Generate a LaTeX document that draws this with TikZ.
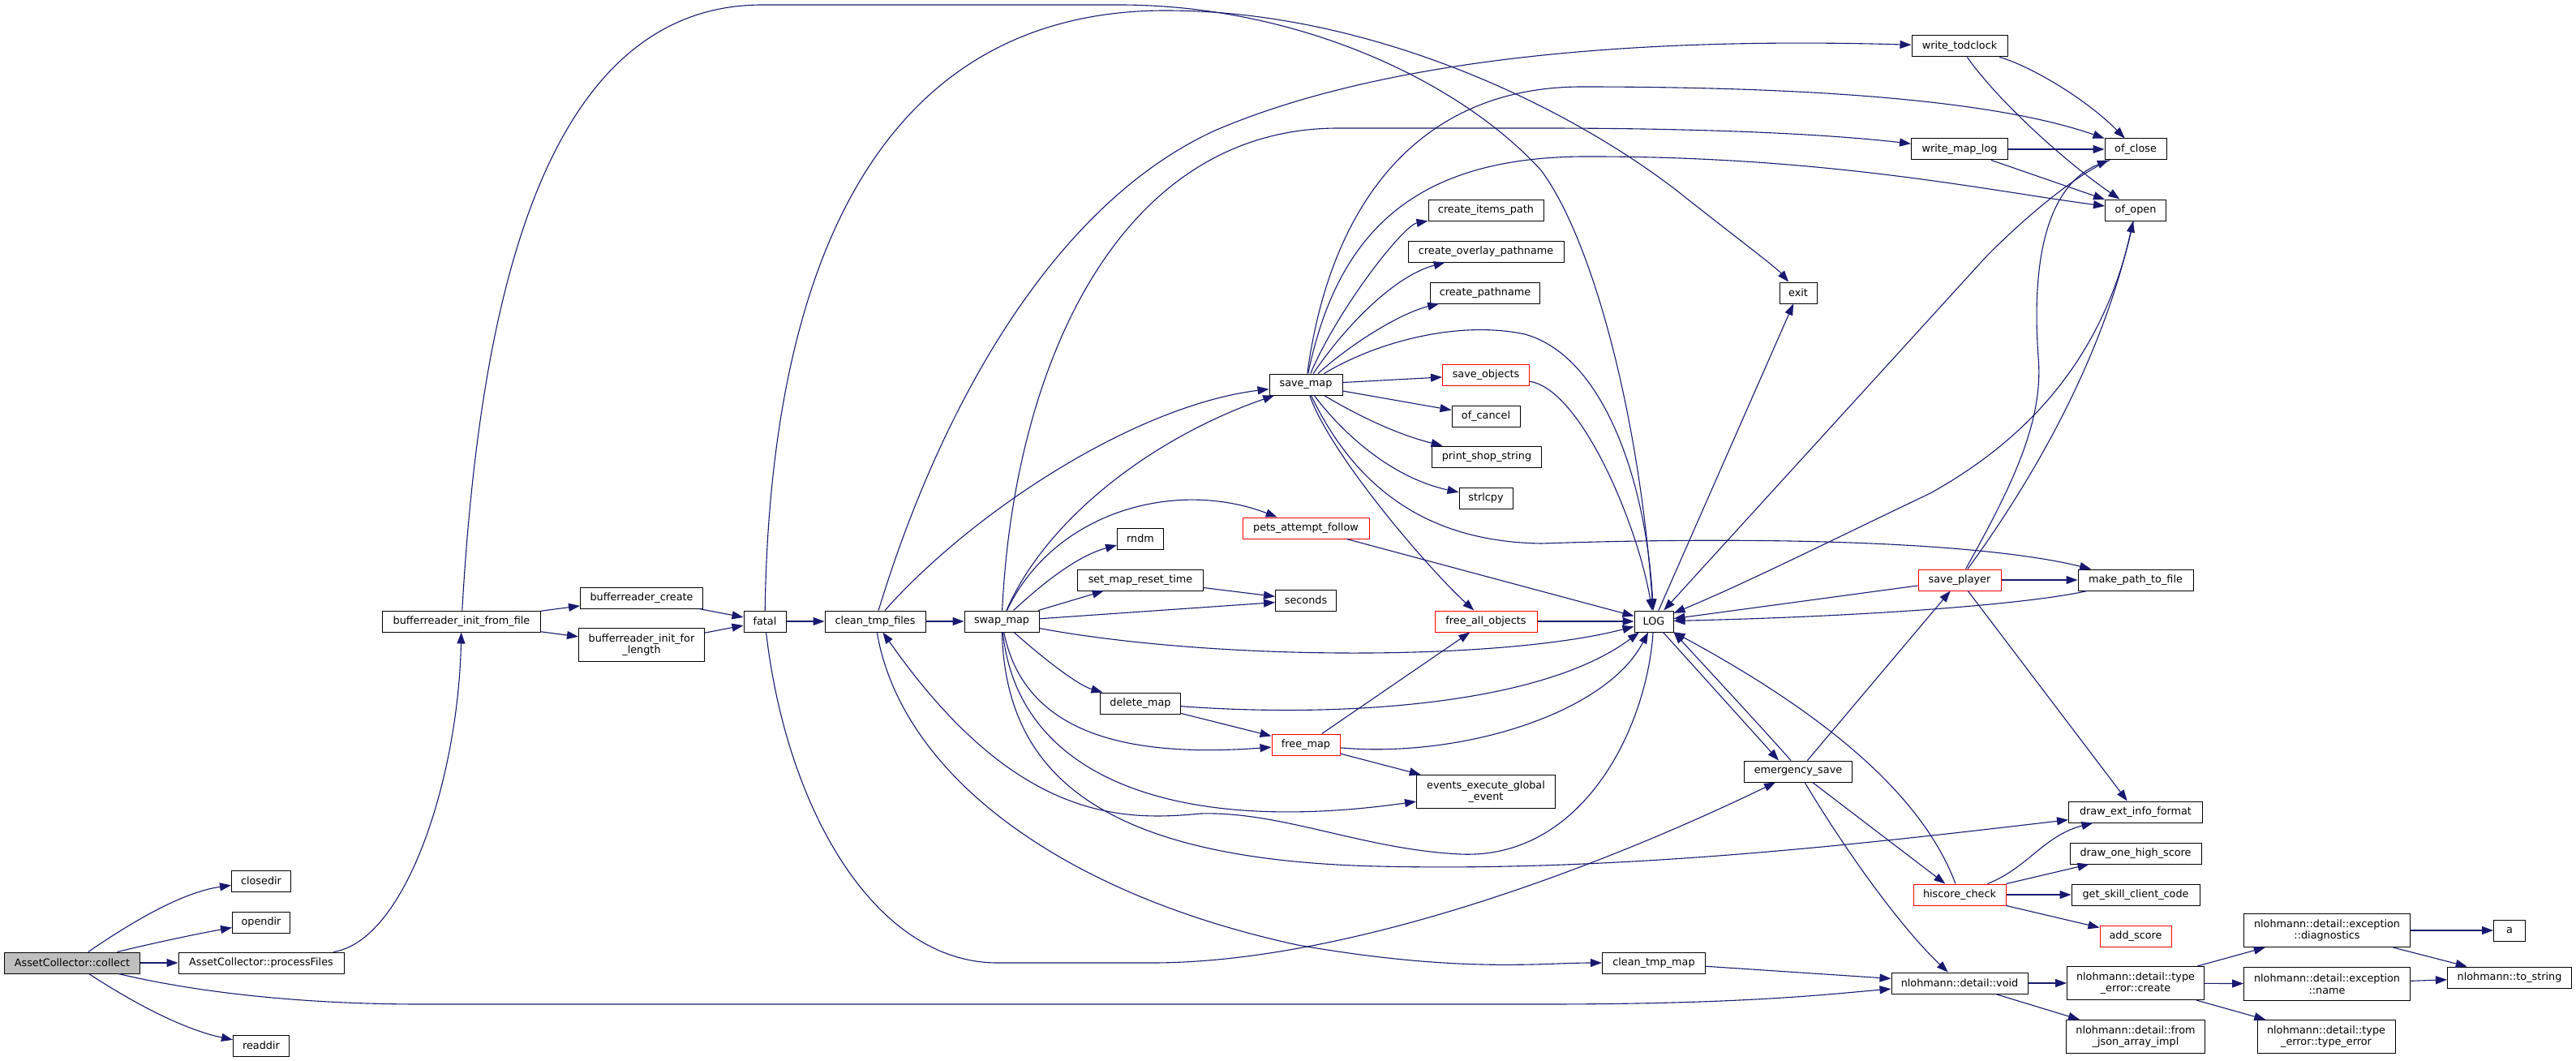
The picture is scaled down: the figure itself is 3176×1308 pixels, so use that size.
\documentclass[tikz,border=0pt]{standalone}
\usepackage{fontspec}
\setmainfont{DejaVu Sans}
\usetikzlibrary{arrows.meta}
\definecolor{edgec}{HTML}{191970}
\definecolor{rootfill}{HTML}{BFBFBF}
\begin{document}
\begin{tikzpicture}[x=1pt,y=-1pt,
  box/.style={draw=black,line width=1pt,fill=white,inner sep=0pt,minimum height=26pt,align=center,font=\fontsize{12.8}{14.5}\selectfont},
  tbox/.style={box,minimum height=41pt},
  rbox/.style={box,draw=red},
  cedge/.style={draw=edgec,line width=1.1pt,-{Triangle[length=14pt,width=10pt]}}]
\path[use as bounding box,fill=white] (0,0) rectangle (3176,1308);

% nodes
\node[box,fill=rootfill,minimum width=167pt] (collect) at (89,1187) {AssetCollector::collect};
\node[box,minimum width=73pt] (closedir) at (322,1086) {closedir};
\node[box,minimum width=71pt] (opendir) at (322,1137) {opendir};
\node[box,minimum width=204pt] (processFiles) at (322,1187) {AssetCollector::processFiles};
\node[box,minimum width=69pt] (readdir) at (322,1289) {readdir};
\node[box,minimum width=195pt] (brfile) at (569,766) {bufferreader\_init\_from\_file};
\node[box,minimum width=151pt] (brcreate) at (791,737) {bufferreader\_create};
\node[tbox,minimum width=155pt] (brlen) at (791,795) {bufferreader\_init\_for\\\_length};
\node[box,minimum width=52pt] (fatal) at (943,766) {fatal};
\node[box,minimum width=124pt] (ctf) at (1079,766) {clean\_tmp\_files};
\node[box,minimum width=92pt] (swap) at (1235,766) {swap\_map};
\node[box,minimum width=57pt] (rndm) at (1406,664) {rndm};
\node[box,minimum width=155pt] (smrt) at (1406,715) {set\_map\_reset\_time};
\node[box,minimum width=99pt] (delmap) at (1406,867) {delete\_map};
\node[box,minimum width=90pt] (savemap) at (1610,474) {save\_map};
\node[rbox,minimum width=156pt] (pets) at (1610,651) {pets\_attempt\_follow};
\node[box,minimum width=75pt] (seconds) at (1610,740) {seconds};
\node[rbox,minimum width=84pt] (freemap) at (1610,918) {free\_map};
\node[box,minimum width=142pt] (cip) at (1832,259) {create\_items\_path};
\node[box,minimum width=192pt] (cop) at (1832,310) {create\_overlay\_pathname};
\node[box,minimum width=135pt] (cpn) at (1831,361) {create\_pathname};
\node[rbox,minimum width=107pt] (saveobj) at (1832,462) {save\_objects};
\node[box,minimum width=84pt] (ofcancel) at (1832,513) {of\_cancel};
\node[box,minimum width=135pt] (pss) at (1833,563) {print\_shop\_string};
\node[box,minimum width=66pt] (strlcpy) at (1832,614) {strlcpy};
\node[rbox,minimum width=126pt] (fao) at (1832,766) {free\_all\_objects};
\node[tbox,minimum width=171pt] (eeg) at (1832,976) {events\_execute\_global\\\_event};
\node[box,minimum width=48pt] (LOG) at (2039,766) {LOG};
\node[box,minimum width=127pt] (ctm) at (2039,1187) {clean\_tmp\_map};
\node[box,minimum width=46pt] (exit) at (2217,361) {exit};
\node[box,minimum width=133pt] (esave) at (2217,951) {emergency\_save};
\node[box,minimum width=118pt] (wtc) at (2416,57) {write\_todclock};
\node[box,minimum width=119pt] (wml) at (2416,184) {write\_map\_log};
\node[rbox,minimum width=102pt] (splayer) at (2416,715) {save\_player};
\node[rbox,minimum width=114pt] (hiscore) at (2416,1103) {hiscore\_check};
\node[box,minimum width=168pt] (nvoid) at (2416,1212) {nlohmann::detail::void};
\node[box,minimum width=76pt] (ofclose) at (2633,184) {of\_close};
\node[box,minimum width=75pt] (ofopen) at (2633,259) {of\_open};
\node[box,minimum width=142pt] (mptf) at (2633,715) {make\_path\_to\_file};
\node[box,minimum width=165pt] (deif) at (2633,1001) {draw\_ext\_info\_format};
\node[box,minimum width=162pt] (dohs) at (2633,1052) {draw\_one\_high\_score};
\node[box,minimum width=158pt] (gscc) at (2633,1103) {get\_skill\_client\_code};
\node[rbox,minimum width=88pt] (addscore) at (2633,1154) {add\_score};
\node[tbox,minimum width=169pt] (tecreate) at (2633,1212) {nlohmann::detail::type\\\_error::create};
\node[tbox,minimum width=171pt] (fjai) at (2633,1278) {nlohmann::detail::from\\\_json\_array\_impl};
\node[tbox,minimum width=205pt] (diag) at (2869,1147) {nlohmann::detail::exception\\::diagnostics};
\node[tbox,minimum width=205pt] (exname) at (2869,1213) {nlohmann::detail::exception\\::name};
\node[tbox,minimum width=170pt] (tete) at (2868,1278) {nlohmann::detail::type\\\_error::type\_error};
\node[box,minimum width=39pt] (a) at (3094,1147) {a};
\node[box,minimum width=153pt] (tostring) at (3094,1205) {nlohmann::to\_string};

% edges from collect
\draw[cedge] (collect) .. controls (165,1135) and (225,1100) .. (closedir);
\draw[cedge] (collect) .. controls (200,1160) and (250,1150) .. (opendir);
\draw[cedge] (collect) -- (processFiles);
\draw[cedge] (collect) .. controls (170,1240) and (230,1270) .. (readdir);
\draw[cedge] (collect) .. controls (250,1225) and (380,1238) .. (520,1238) -- (1900,1238) .. controls (2150,1238) and (2250,1226) .. (nvoid);
\draw[cedge] (processFiles) .. controls (500,1160) and (565,960) .. (brfile);

% bufferreader / fatal
\draw[cedge] (brfile) -- (brcreate);
\draw[cedge] (brfile) -- (brlen);
\draw[cedge] (brcreate) -- (fatal);
\draw[cedge] (brlen) -- (fatal);
\draw[cedge] (fatal) -- (ctf);
\draw[cedge] (ctf) -- (swap);
\draw[cedge] (brfile) .. controls (590,400) and (660,6) .. (940,6) -- (1380,6) .. controls (1600,6) and (1800,100) .. (1900,210) .. controls (1960,290) and (2020,500) .. (LOG);
\draw[cedge] (fatal) .. controls (950,300) and (1100,13) .. (1437,13) .. controls (1700,13) and (1950,140) .. (2080,245) .. controls (2150,300) and (2190,330) .. (exit);
\draw[cedge] (fatal) .. controls (970,1000) and (1080,1187) .. (1230,1187) -- (1420,1187) .. controls (1650,1187) and (1950,1080) .. (esave);

% clean_tmp_files
\draw[cedge] (ctf) .. controls (1160,500) and (1300,250) .. (1500,160) .. controls (1700,75) and (2000,45) .. (wtc);
\draw[cedge] (ctf) .. controls (1200,630) and (1400,500) .. (savemap);
\draw[cedge] (ctf) .. controls (1110,950) and (1300,1100) .. (1600,1165) .. controls (1800,1200) and (1900,1187) .. (ctm);
\draw[cedge] (LOG) .. controls (2030,900) and (1950,1060) .. (1800,1053) .. controls (1680,1047) and (1580,1000) .. (1480,1003) .. controls (1380,1013) and (1250,1010) .. (ctf);

% swap_map
\draw[cedge] (swap) .. controls (1250,450) and (1380,158) .. (1650,158) -- (1900,158) .. controls (2100,158) and (2250,165) .. (wml);
\draw[cedge] (swap) .. controls (1290,640) and (1420,540) .. (savemap);
\draw[cedge] (swap) .. controls (1300,630) and (1450,590) .. (pets);
\draw[cedge] (swap) .. controls (1290,715) and (1330,685) .. (rndm);
\draw[cedge] (swap) -- (smrt);
\draw[cedge] (swap) -- (seconds);
\draw[cedge] (smrt) -- (seconds);
\draw[cedge] (swap) .. controls (1500,815) and (1850,815) .. (LOG);
\draw[cedge] (swap) .. controls (1290,815) and (1330,845) .. (delmap);
\draw[cedge] (swap) .. controls (1262,900) and (1380,935) .. (freemap);
\draw[cedge] (swap) .. controls (1255,960) and (1450,1030) .. (eeg);
\draw[cedge] (swap) .. controls (1240,950) and (1350,1060) .. (1700,1068) .. controls (2000,1075) and (2300,1040) .. (deif);

% save_map
\draw[cedge] (savemap) .. controls (1650,380) and (1730,278) .. (cip);
\draw[cedge] (savemap) .. controls (1660,400) and (1720,340) .. (cop);
\draw[cedge] (savemap) .. controls (1670,420) and (1730,385) .. (cpn);
\draw[cedge] (savemap) -- (saveobj);
\draw[cedge] (savemap) -- (ofcancel);
\draw[cedge] (savemap) .. controls (1670,510) and (1720,535) .. (pss);
\draw[cedge] (savemap) .. controls (1660,540) and (1720,590) .. (strlcpy);
\draw[cedge] (savemap) .. controls (1640,560) and (1760,700) .. (fao);
\draw[cedge] (savemap) .. controls (1680,620) and (1780,668) .. (1900,670) .. controls (2200,660) and (2450,670) .. (mptf);
\draw[cedge] (savemap) .. controls (1700,420) and (1800,395) .. (1880,412) .. controls (1980,440) and (2030,600) .. (LOG);
\draw[cedge] (savemap) .. controls (1640,250) and (1750,107) .. (1950,107) .. controls (2200,107) and (2450,120) .. (ofclose);
\draw[cedge] (savemap) .. controls (1650,280) and (1750,195) .. (1950,193) .. controls (2250,192) and (2450,235) .. (ofopen);

% middle
\draw[cedge] (pets) -- (LOG);
\draw[cedge] (fao) -- (LOG);
\draw[cedge] (delmap) .. controls (1650,885) and (1900,870) .. (LOG);
\draw[cedge] (delmap) -- (freemap);
\draw[cedge] (freemap) -- (fao);
\draw[cedge] (freemap) .. controls (1800,935) and (1980,880) .. (LOG);
\draw[cedge] (freemap) -- (eeg);
\draw[cedge] (saveobj) .. controls (1950,480) and (2020,650) .. (LOG);

% LOG and emergency_save
\draw[cedge] (LOG) -- (exit);
\draw[cedge] ([xshift=-13pt]LOG.south east) -- ([xshift=-24pt]esave.north);
\draw[cedge] ([xshift=-9pt]esave.north) .. controls (2175,900) and (2110,830) .. (LOG.south east);
\draw[cedge] (esave) -- (splayer);
\draw[cedge] (esave) -- (hiscore);
\draw[cedge] (esave) .. controls (2270,1040) and (2340,1140) .. (nvoid);
\draw[cedge] (hiscore) .. controls (2370,980) and (2250,880) .. (LOG);
\draw[cedge] (hiscore) .. controls (2500,1070) and (2520,1030) .. (deif);
\draw[cedge] (hiscore) -- (dohs);
\draw[cedge] (hiscore) -- (gscc);
\draw[cedge] (hiscore) -- (addscore);

% save_player
\draw[cedge] (splayer) -- (LOG);
\draw[cedge] (splayer) -- (mptf);
\draw[cedge] (mptf) .. controls (2500,745) and (2300,760) .. (LOG);
\draw[cedge] (splayer) .. controls (2480,600) and (2520,520) .. (2513,440) .. controls (2505,330) and (2520,230) .. (ofclose);
\draw[cedge] (splayer) .. controls (2500,600) and (2590,450) .. (ofopen);
\draw[cedge] (splayer) -- (deif);
\draw[cedge] (ofclose) .. controls (2560,215) and (2500,265) .. (2450,315) -- (LOG);
\draw[cedge] (ofopen) .. controls (2600,420) and (2520,530) .. (2380,608) .. controls (2250,670) and (2150,720) .. (LOG);

% top right
\draw[cedge] (wtc) .. controls (2500,80) and (2570,120) .. (ofclose);
\draw[cedge] (wtc) .. controls (2460,120) and (2540,195) .. (ofopen);
\draw[cedge] (wml) -- (ofclose);
\draw[cedge] (wml) -- (ofopen);

% nlohmann
\draw[cedge] (ctm) -- (nvoid);
\draw[cedge] (nvoid) -- (tecreate);
\draw[cedge] (nvoid) -- (fjai);
\draw[cedge] (tecreate) -- (diag);
\draw[cedge] (tecreate) -- (exname);
\draw[cedge] (tecreate) -- (tete);
\draw[cedge] (diag) -- (a);
\draw[cedge] (diag) -- (tostring);
\draw[cedge] (exname) -- (tostring);
\end{tikzpicture}
\end{document}
